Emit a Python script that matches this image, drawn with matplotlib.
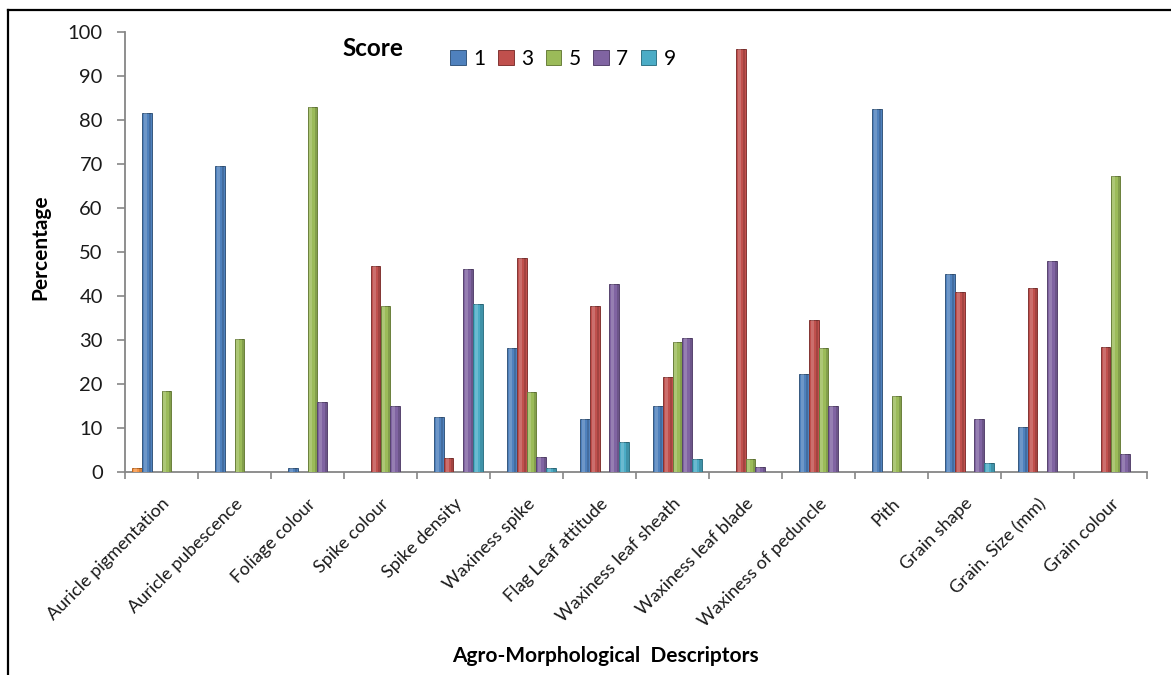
import numpy as np
import matplotlib.pyplot as plt
from matplotlib.lines import Line2D

plt.rcParams['font.family'] = ['Lato', 'DejaVu Sans']

descriptors = ['Auricle pigmentation', 'Auricle pubescence', 'Foliage colour', 'Spike colour',
               'Spike density', 'Waxiness spike', 'Flag Leaf attitude', 'Waxiness leaf sheath',
               'Waxiness leaf blade', 'Waxiness of peduncle', 'Pith', 'Grain shape',
               'Grain. Size (mm)', 'Grain colour']
scores = ['1', '3', '5', '7', '9']

# percentage of accessions per score (0 = not present)
extra = [1.0, 0, 0, 0, 0, 0, 0, 0, 0, 0, 0, 0, 0, 0]
score1 = [81.6, 69.5, 1.0, 0, 12.4, 28.2, 12.1, 15.1, 0, 22.2, 82.5, 44.9, 10.3, 0]
score3 = [0, 0, 0, 46.8, 3.1, 48.7, 37.7, 21.5, 96.0, 34.5, 0, 40.8, 41.9, 28.4]
score5 = [18.4, 30.3, 82.8, 37.7, 0, 18.1, 0, 29.6, 2.9, 28.2, 17.3, 0, 0, 67.3]
score7 = [0, 0, 16.0, 15.1, 46.2, 3.4, 42.7, 30.4, 1.2, 15.0, 0, 12.1, 47.9, 4.0]
score9 = [0, 0, 0, 0, 38.1, 1.0, 6.9, 2.9, 0, 0, 0, 2.0, 0, 0]

series = [extra, score1, score3, score5, score7, score9]
labels = ['_nolegend_'] + scores
colors = ['#F79646', '#4F81BD', '#C0504D', '#9BBB59', '#8064A2', '#4BACC6']
edges = ['#B8651F', '#36587F', '#833533', '#6A803C', '#57446E', '#327587']

fig = plt.figure(figsize=(11.71, 6.75), dpi=100)
ax = fig.add_axes([125/1171, 1-472/675, 1022/1171, 440.3/675])

x = np.arange(len(descriptors))
w = 0.134
for i, (vals, lab, c, ec) in enumerate(zip(series, labels, colors, edges)):
    pos = x + (i - 2.5) * w
    v = np.array(vals, dtype=float)
    keep = v > 0
    ax.bar(pos[keep], v[keep], width=w, color=c, edgecolor=ec, linewidth=0.7,
           label=lab, zorder=3)
    # bevel shading: light stripe left, dark stripe right
    ax.bar(pos[keep] - w*0.15, v[keep], width=w*0.3, color='white', alpha=0.18,
           linewidth=0, zorder=4)
    ax.bar(pos[keep] + w*0.36, v[keep], width=w*0.22, color='black', alpha=0.15,
           linewidth=0, zorder=4)

ax.set_xlim(-0.5, len(descriptors) - 0.5)
ax.set_ylim(0, 100)
ax.set_yticks(np.arange(0, 101, 10))
ax.tick_params(axis='y', labelsize=14.5, colors='#868686', labelcolor='#1a1a1a',
               length=6, width=1.2, pad=10)

ax.set_xticks(np.arange(-0.5, len(descriptors)), minor=False)
ax.set_xticklabels([''] * (len(descriptors) + 1))
ax.tick_params(axis='x', which='major', colors='#868686', length=5, width=1.2, direction='out')
ax.set_xticks(x, minor=True)
ax.set_xticklabels(descriptors, minor=True, rotation=45, ha='right',
                   rotation_mode='anchor', fontsize=13, color='#1a1a1a')
ax.tick_params(axis='x', which='minor', length=0, pad=17)

for s in ['top', 'right']:
    ax.spines[s].set_visible(False)
for s in ['left', 'bottom']:
    ax.spines[s].set_color('#868686')
    ax.spines[s].set_linewidth(1.3)

ax.set_ylabel('Percentage', fontsize=15, fontweight='bold')
ax.yaxis.set_label_coords(-0.073, 0.51)
ax.set_xlabel('Agro-Morphological  Descriptors', fontsize=15, fontweight='bold')
ax.xaxis.set_label_coords(0.47, -0.395)

fig.text(342/1171, 1-48/675, 'Score', fontsize=17.5, fontweight='bold', va='center')
ax.legend(loc='center left', bbox_to_anchor=((440-125)/1022, (472-59)/440.3), ncol=5,
          frameon=False, fontsize=15, handlelength=0.75, handleheight=0.75,
          handletextpad=0.35, columnspacing=0.6, borderpad=0)

# outer frame (top and left edges)
fig.add_artist(Line2D([8/1171, 1], [1-10/675, 1-10/675], color='black', lw=1.6))
fig.add_artist(Line2D([8/1171, 8/1171], [0, 1-10/675], color='black', lw=1.6))

fig.savefig('out.png', dpi=100)
